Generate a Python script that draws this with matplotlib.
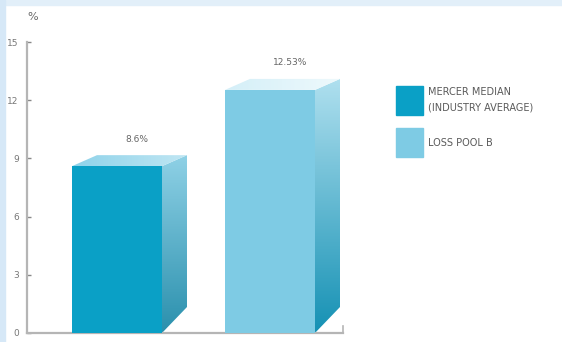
import numpy as np
import matplotlib
matplotlib.use("Agg")
import matplotlib.pyplot as plt
from matplotlib.patches import Polygon, Rectangle
from matplotlib.colors import LinearSegmentedColormap

# data
categories = ["MERCER MEDIAN\n(INDUSTRY AVERAGE)", "LOSS POOL B"]
values = [8.6, 12.53]
value_labels = ["8.6%", "12.53%"]
yticks = [0, 3, 6, 9, 12, 15]

front_colors = ["#0aa0c6", "#7ecbe4"]
top_colors = [("#8fd3ea", "#bfe6f3"), ("#d4eff8", "#eef9fc")]
side_colors = [("#8fd1e6", "#2a90ad"), ("#b0e0ef", "#1591b4")]

fig = plt.figure(figsize=(5.62, 3.42), dpi=100)
fig.patch.set_facecolor("white")

# light blue frame at top and left
fig.patches.append(Rectangle((0, 1 - 5 / 342), 1, 5 / 342, transform=fig.transFigure,
                             color="#e2eff9", zorder=0))
fig.patches.append(Rectangle((0, 0), 5 / 562, 1, transform=fig.transFigure,
                             color="#d6e8f7", zorder=0))

ax = fig.add_axes([27 / 562, 9 / 342, 316 / 562, 291 / 342])
xmin, xmax = -90 / 153, 1 + 73 / 153

width = 90 / 153
dx = 25 / 153          # depth in x (data units)
dy_top = 11 / 19.4     # depth rise at top
dy_bot = 26 / 19.4     # depth rise at bottom

for i, v in enumerate(values):
    x0 = i - width / 2
    x1 = i + width / 2
    # side face with gradient
    side = Polygon([(x1, 0), (x1 + dx, dy_bot), (x1 + dx, v + dy_top), (x1, v)],
                   closed=True, facecolor="none", edgecolor="none")
    ax.add_patch(side)
    cmap = LinearSegmentedColormap.from_list("s%d" % i, [side_colors[i][1], side_colors[i][0]])
    grad = np.linspace(0, 1, 256).reshape(-1, 1)
    im = ax.imshow(grad, extent=(x1, x1 + dx, 0, v + dy_top), origin="lower",
                   cmap=cmap, aspect="auto", zorder=2)
    im.set_clip_path(side)
    # top face
    top = Polygon([(x0, v), (x0 + dx, v + dy_top), (x1 + dx, v + dy_top), (x1, v)],
                  closed=True, facecolor="none", edgecolor="none")
    ax.add_patch(top)
    cmap_t = LinearSegmentedColormap.from_list("t%d" % i, [top_colors[i][0], top_colors[i][1]])
    im2 = ax.imshow(np.linspace(0, 1, 64).reshape(1, -1), extent=(x0, x1 + dx, v, v + dy_top),
                    cmap=cmap_t, aspect="auto", zorder=2)
    im2.set_clip_path(top)
    # front face
    ax.bar(i, v, width=width, color=front_colors[i], zorder=3)
    ax.text(i + dx / 2 + 0.05, v + dy_top + 0.6, value_labels[i], ha="center", va="bottom",
            fontsize=6.5, color="#666666")

ax.set_xlim(xmin, xmax)
ax.set_ylim(0, 15)

for s in ["top", "right"]:
    ax.spines[s].set_visible(False)
for s in ["left", "bottom"]:
    ax.spines[s].set_color("#b5b5b5")
    ax.spines[s].set_linewidth(1.6)
ax.plot([xmax, xmax], [0, 0.35], color="#b5b5b5", lw=1.2, clip_on=False, zorder=4)

ax.set_yticks(yticks)
ax.set_yticklabels([str(t) for t in yticks])
ax.set_xticks([])
ax.tick_params(axis="y", direction="in", length=3, width=1, color="#888888",
               labelsize=6.5, labelcolor="#777777", pad=6)
ax.patch.set_alpha(0)

fig.text(33 / 562, 1 - 17 / 342, "%", ha="center", va="center", fontsize=8, color="#666666")

# legend
leg_y = [86, 128]
for i, lab in enumerate(categories):
    fig.patches.append(Rectangle((396 / 562, 1 - (leg_y[i] + 29) / 342), 27 / 562, 29 / 342,
                                 transform=fig.transFigure, color=front_colors[i]))
first, second = categories[0].split("\n")
fig.text(428 / 562, 1 - 92 / 342, first, ha="left", va="center", fontsize=7,
         color="#5a5a5a")
fig.text(428 / 562, 1 - 107 / 342, second, ha="left", va="center", fontsize=7,
         color="#5a5a5a")
fig.text(428 / 562, 1 - 143 / 342, categories[1], ha="left", va="center", fontsize=7,
         color="#5a5a5a")

fig.savefig("out.png", dpi=100)
